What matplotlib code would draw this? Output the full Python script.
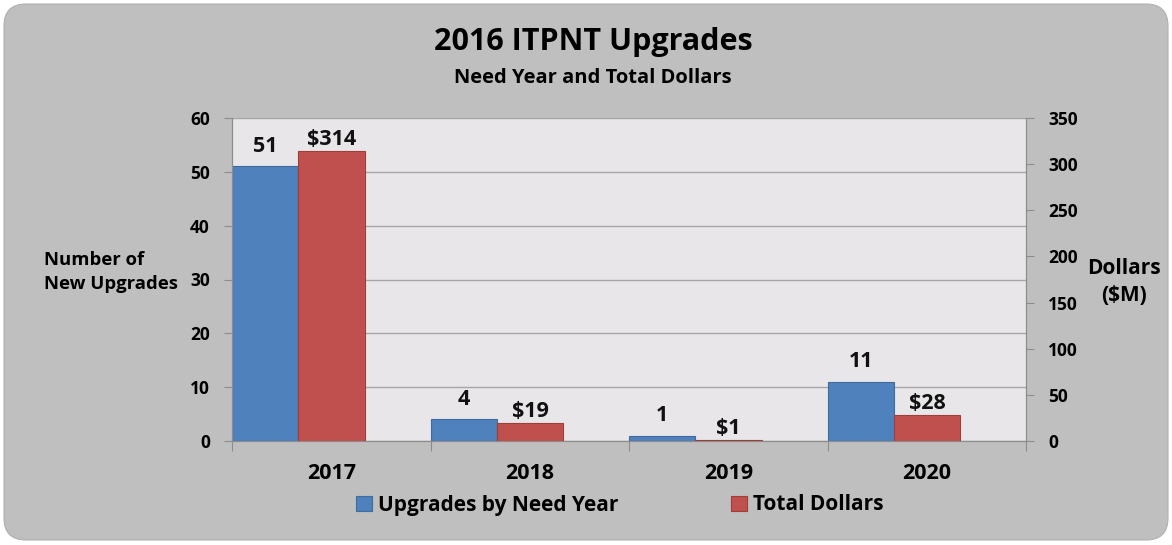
import matplotlib
matplotlib.use("Agg")
import matplotlib.pyplot as plt
import numpy as np
from matplotlib.patches import FancyBboxPatch

years = ["2017", "2018", "2019", "2020"]
upgrades = [51, 4, 1, 11]
dollars = [314, 19, 1, 28]
dollar_labels = ["$314", "$19", "$1", "$28"]

blue = "#4F81BD"
red = "#C0504D"
bg = "#BFBFBF"
plot_bg = "#E8E6E8"
line_c = "#8C8C8C"

plt.rcParams['font.family'] = ['Open Sans', 'DejaVu Sans']
plt.rcParams['font.weight'] = 'bold'

fig = plt.figure(figsize=(11.72, 5.45), dpi=100)
fig.patch.set_facecolor("white")
box = FancyBboxPatch((0.04, 0.05), 11.64, 5.36,
                     boxstyle="round,pad=0,rounding_size=0.22",
                     transform=fig.dpi_scale_trans, facecolor=bg,
                     edgecolor="#B0B0B0", linewidth=0.8, zorder=-10)
fig.patches.append(box)

ax = fig.add_axes([232 / 1172, 1 - 441 / 545, (1026 - 232) / 1172, (441 - 118) / 545])
ax2 = ax.twinx()
ax.set_facecolor(plot_bg)

x = np.arange(len(years))
w = 0.335
ax.bar(x - 0.5, upgrades, width=w, align="edge", color=blue,
       edgecolor="#3F6C9F", linewidth=0.8, label="Upgrades by Need Year", zorder=3)
ax2.bar(x - 0.5 + w, dollars, width=w, align="edge", color=red,
        edgecolor="#9E3E3B", linewidth=0.8, label="Total Dollars", zorder=3)

ax.set_xlim(-0.5, 3.5)
ax.set_ylim(0, 60)
ax2.set_ylim(0, 350)
ax.set_yticks(range(0, 61, 10))
ax2.set_yticks(range(0, 351, 50))
ax.yaxis.grid(True, color="#A6A6A6", linewidth=1, zorder=0)
ax.set_axisbelow(True)

for i, v in enumerate(upgrades):
    ax.annotate(str(v), (i - 0.5 + w / 2, v), xytext=(0, 7), textcoords="offset points",
                ha="center", va="bottom", fontsize=15.5, fontweight="bold", color="#111111")
for i, v in enumerate(dollars):
    ax2.annotate(dollar_labels[i], (i - 0.5 + 1.5 * w, v), xytext=(0, 1), textcoords="offset points",
                 ha="center", va="bottom", fontsize=15.5, fontweight="bold", color="#111111")

# ticks at category edges, labels at centres
ax.set_xticks(np.arange(-0.5, 3.6, 1.0))
ax.set_xticklabels([])
ax.set_xticks(x, minor=True)
ax.set_xticklabels(years, minor=True, fontsize=15.5, fontweight="bold")
ax.tick_params(axis="x", which="major", length=7, color=line_c, direction="out")
ax.tick_params(axis="x", which="minor", length=0, pad=16)
ax.tick_params(axis="y", length=6, color=line_c, labelsize=12.5, pad=10)
ax2.tick_params(axis="y", length=6, color=line_c, labelsize=12.5, pad=10)
for a in (ax, ax2):
    for s in a.spines.values():
        s.set_color(line_c)
    a.spines["top"].set_visible(False)

fig.text(44 / 1172, 1 - 272 / 545, "Number of\nNew Upgrades", ha="left", va="center",
         fontsize=13.3, fontweight="bold", linespacing=1.4)
fig.text(1124 / 1172, 1 - 282 / 545, "Dollars\n($M)", ha="center", va="center",
         fontsize=15, fontweight="bold", linespacing=1.35)

fig.text(593 / 1172, 1 - 42 / 545, "2016 ITPNT Upgrades", ha="center", va="center",
         fontsize=22, fontweight="bold")
fig.text(593 / 1172, 1 - 78 / 545, "Need Year and Total Dollars", ha="center", va="center",
         fontsize=14.5, fontweight="bold")

h1, l1 = ax.get_legend_handles_labels()
h2, l2 = ax2.get_legend_handles_labels()
fig.legend(h1 + h2, l1 + l2, loc="center", bbox_to_anchor=(620 / 1172, 1 - 505 / 545),
           ncol=2, frameon=False, fontsize=15, handlelength=0.75, handleheight=0.75,
           handletextpad=0.3, columnspacing=5.4)

fig.savefig("out.png", dpi=100, facecolor=fig.get_facecolor())
